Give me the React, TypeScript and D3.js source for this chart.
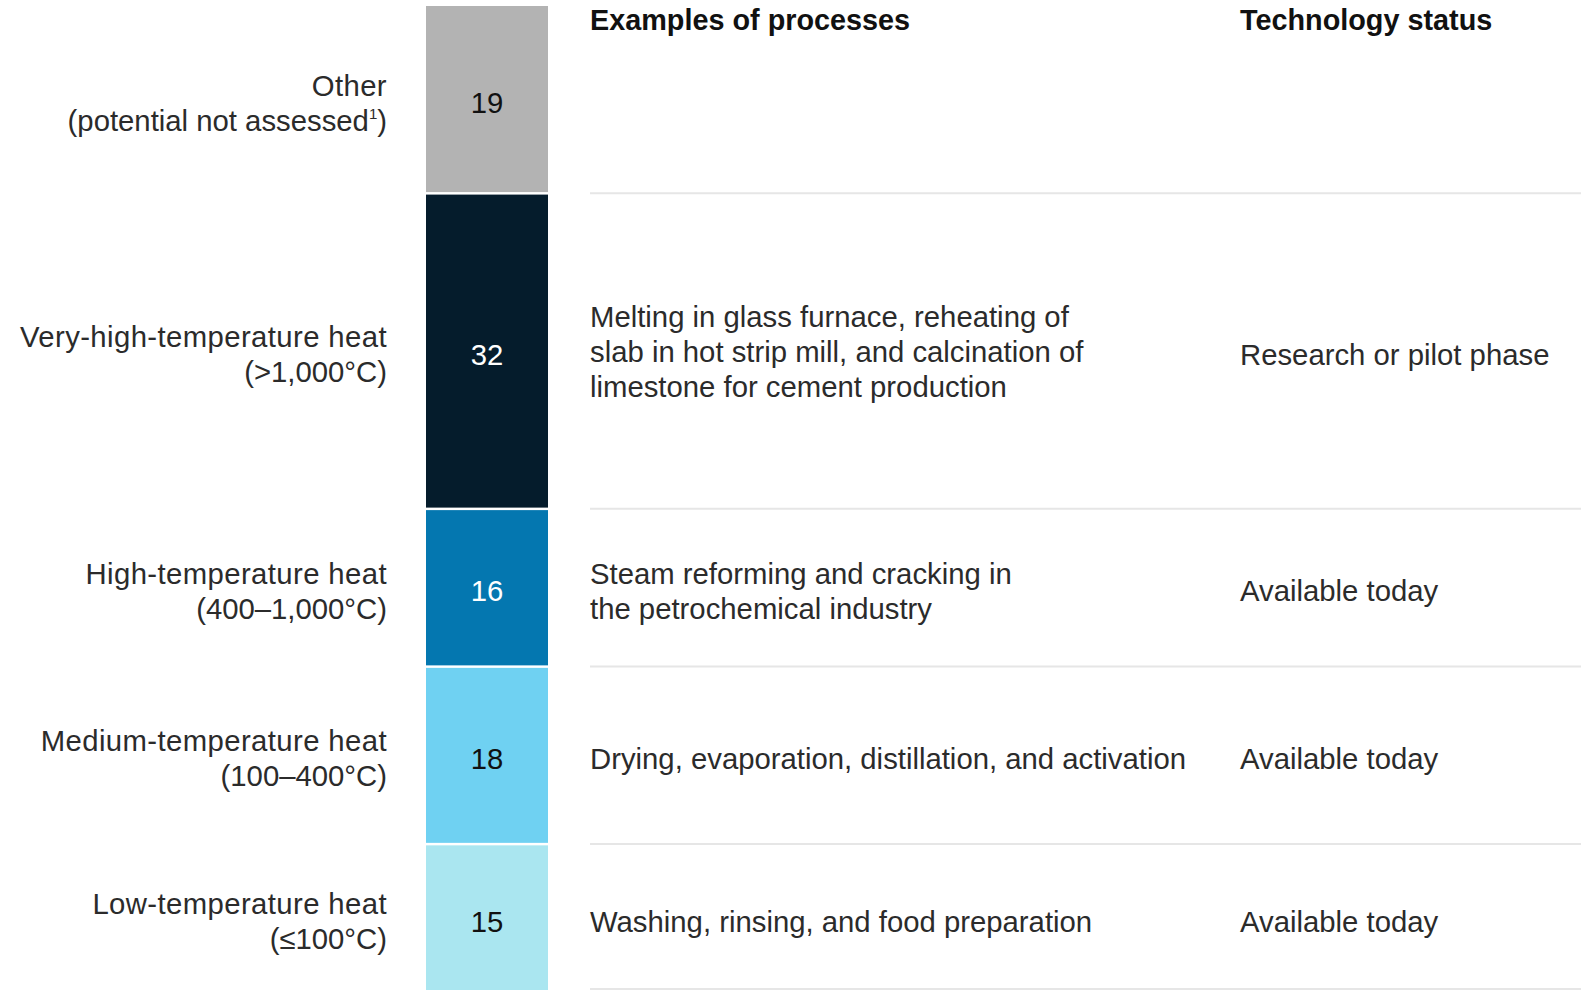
import React from 'react';
import * as d3 from 'd3';

const categories = [
  'Other',
  'Very-high-temperature heat',
  'High-temperature heat',
  'Medium-temperature heat',
  'Low-temperature heat',
];
const subLabels = ['(potential not assessed', '(>1,000°C)', '(400–1,000°C)', '(100–400°C)', '(≤100°C)'];
const values = [19, 32, 16, 18, 15];
const processes = [
  [],
  ['Melting in glass furnace, reheating of', 'slab in hot strip mill, and calcination of', 'limestone for cement production'],
  ['Steam reforming and cracking in', 'the petrochemical industry'],
  ['Drying, evaporation, distillation, and activation'],
  ['Washing, rinsing, and food preparation'],
];
const statuses = ['', 'Research or pilot phase', 'Available today', 'Available today', 'Available today'];
const colors = ['#b3b3b3', '#051c2c', '#0477b0', '#6fd1f2', '#aae6f0'];
const numberColors = ['#111', '#fff', '#fff', '#111', '#111'];

const W = 1583;
const H = 990;
const FONT = '"Liberation Sans", Arial, sans-serif';
const FS = 29.3;
const LH = 35;
const GAP = 2.5;

const App: React.FC = () => {
  const y = d3.scaleLinear().domain([0, d3.sum(values)]).range([6, H + 2]);
  const cum = d3.cumsum(values);
  const starts = values.map((v, i) => cum[i] - v);

  const barX0 = 426;
  const barX1 = 548;
  const labelX = 387;
  const procX = 590;
  const statusX = 1240;
  const lineX1 = 1581;
  const capHalf = FS * 0.716 / 2;

  const rows = values.map((v, i) => {
    const top = y(starts[i]) + (i === 0 ? 0 : GAP / 2);
    const bottom = y(cum[i]) - (i === values.length - 1 ? 0 : GAP / 2);
    const mid = (y(starts[i]) + y(cum[i])) / 2 + 3;
    return { i, v, top, bottom, mid };
  });

  const baseline = (mid: number, n: number, k: number) => mid + capHalf - ((n - 1) * LH) / 2 + k * LH;

  return (
    <>
      <style>{'body{margin:0}'}</style>
      <svg width={W} height={H} style={{ display: 'block', background: '#fff' }} fontFamily={FONT}>
        {/* headers */}
        <text x={procX} y={30} fontSize={28.8} fontWeight="bold" fill="#111">Examples of processes</text>
        <text x={statusX} y={30} fontSize={28.8} fontWeight="bold" fill="#111">Technology status</text>

        {/* row separators */}
        {rows.map((r) => {
          const ly = r.i === values.length - 1 ? H - 1 : y(cum[r.i]);
          return <line key={'l' + r.i} x1={procX} x2={lineX1} y1={ly} y2={ly} stroke="#e6e6e6" strokeWidth={2} />;
        })}

        {rows.map((r) => (
          <g key={r.i}>
            <rect x={barX0} y={r.top} width={barX1 - barX0} height={r.bottom - r.top} fill={colors[r.i]} />
            <text x={(barX0 + barX1) / 2} y={r.mid + capHalf} fontSize={FS} textAnchor="middle" fill={numberColors[r.i]}>
              {r.v}
            </text>
            <text x={labelX} fontSize={FS} textAnchor="end" fill="#2b2b2b">
              <tspan x={labelX} y={baseline(r.mid, 2, 0)} letterSpacing={0.4}>{categories[r.i]}</tspan>
              <tspan x={labelX} y={baseline(r.mid, 2, 1)}>
                {subLabels[r.i]}
                {r.i === 0 ? (
                  <>
                    <tspan fontSize={15} dy={-12}>1</tspan>
                    <tspan dy={12}>)</tspan>
                  </>
                ) : null}
              </tspan>
            </text>
            {processes[r.i].length > 0 && (
              <text x={procX} fontSize={FS} fill="#2b2b2b">
                {processes[r.i].map((t, k) => (
                  <tspan key={k} x={procX} y={baseline(r.mid, processes[r.i].length, k) - (processes[r.i].length > 2 ? 3 : 0)}>{t}</tspan>
                ))}
              </text>
            )}
            {statuses[r.i] && (
              <text x={statusX} y={baseline(r.mid, 1, 0)} fontSize={FS} fill="#2b2b2b">{statuses[r.i]}</text>
            )}
          </g>
        ))}
      </svg>
    </>
  );
};

export default App;
